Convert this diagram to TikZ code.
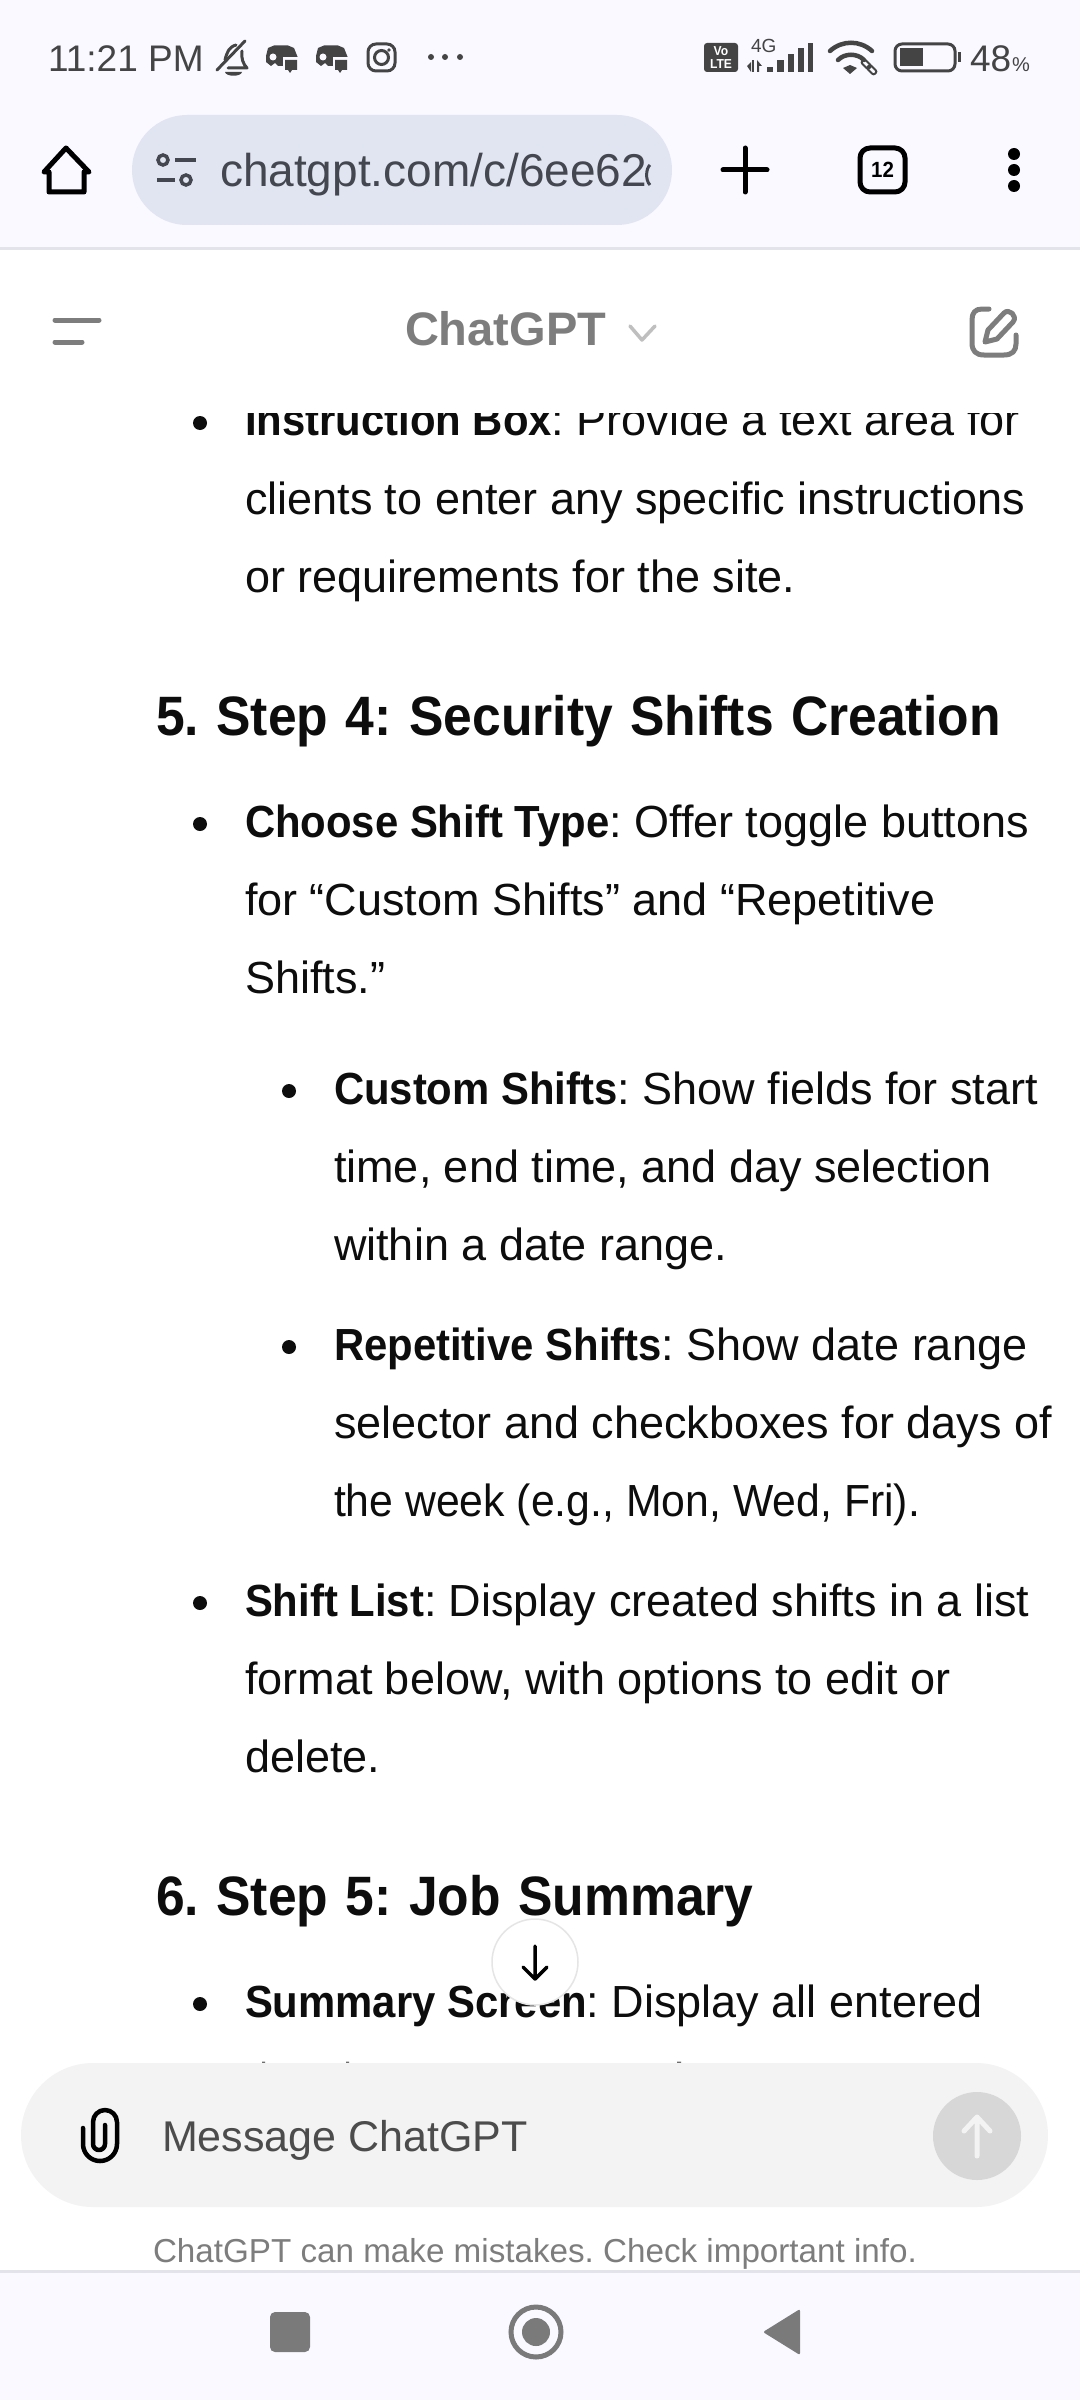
\documentclass[tikz,border=0pt]{standalone}
\usepackage{xcolor}
\usepackage{fontspec}
\setmainfont{Liberation Sans}[BoldFeatures={FakeStretch=0.93}]
\newfontfamily\titlefont{Liberation Sans}
\newcommand{\headspace}{\spaceskip=0.315em\relax}
\usepackage{tikz}
\usetikzlibrary{arrows.meta, positioning}
\definecolor{barbg}{HTML}{F9F9FF}
\definecolor{barline}{HTML}{E3E3EC}
\definecolor{statusink}{HTML}{444444}
\definecolor{pillbg}{HTML}{E1E5F1}
\definecolor{urlink}{HTML}{44474F}
\definecolor{headink}{HTML}{7D7D7D}
\definecolor{bodyink}{HTML}{0D0D0D}
\definecolor{composerbg}{HTML}{F3F3F3}
\definecolor{sendbg}{HTML}{D7D7D7}
\definecolor{navink}{HTML}{7A7A7A}

\begin{document}
\frenchspacing
\begin{tikzpicture}[
    x=1pt, y=-1pt,
    every node/.style={inner sep=0pt, outer sep=0pt},
    txt/.style={anchor=base west, text=bodyink, font=\fontsize{45}{45}\selectfont},
    heading/.style={anchor=base west, text=bodyink, font=\fontsize{55.5}{56}\selectfont\bfseries\headspace},
    status/.style={anchor=base west, text=statusink, font=\fontsize{37}{37}\selectfont},
    icon/.style={draw=statusink, line width=3pt, line cap=round, line join=round},
    baricon/.style={draw=black, line width=5pt, line cap=round, line join=round},
    graybar/.style={draw=headink, line width=5pt, line cap=round, line join=round}
]
    \useasboundingbox (0,0) rectangle (1080,2400);
    \fill[white] (0,0) rectangle (1080,2400);

    % Page text
    \node[txt] (l0) at (245,435) {\textbf{Instruction Box}: Provide a text area for};
    \node[txt] (l1) at (245,514) {clients to enter any specific instructions};
    \node[txt] (l2) at (245,592) {or requirements for the site.};
    \node[heading] (h5) at (156,735) {5. Step 4: Security Shifts Creation};
    \node[txt] (l3) at (245,837) {\textbf{Choose Shift Type}: Offer toggle buttons};
    \node[txt] (l4) at (245,915) {for “Custom Shifts” and “Repetitive};
    \node[txt] (l5) at (245,993) {Shifts.”};
    \node[txt] (l6) at (334,1104) {\textbf{Custom Shifts}: Show fields for start};
    \node[txt] (l7) at (334,1182) {time, end time, and day selection};
    \node[txt] (l8) at (334,1260) {within a date range.};
    \node[txt] (l9) at (334,1360) {\textbf{Repetitive Shifts}: Show date range};
    \node[txt] (l10) at (334,1438) {selector and checkboxes for days of};
    \node[txt] (l11) at (334,1516) {\addfontfeature{FakeStretch=0.95}the week (e.g., Mon, Wed, Fri).};
    \node[txt] (l12) at (245,1616) {\textbf{Shift List}: Display created shifts in a list};
    \node[txt] (l13) at (245,1694) {format below, with options to edit or};
    \node[txt] (l14) at (245,1772) {delete.};
    \node[heading] (h6) at (156,1915) {6. Step 5: Job Summary};
    \node[txt] (l15) at (245,2017) {\textbf{Summary Screen}: Display all entered};

    % Bullets
    \fill[bodyink] (200,423) circle (7) (200,824) circle (7) (200,1603) circle (7) (200,2004) circle (7);
    \fill[bodyink] (289,1091) circle (7) (289,1347) circle (7);

    % Scroll button
    \node[circle, draw=black!10, fill=white, line width=1.5pt, minimum size=86pt] (down) at (535,1962) {};
    \draw[line width=3.5pt, line cap=round, line join=round, black]
        (535,1946) -- (535,1979) (523,1967) -- (535,1979) -- (547,1967);

    % Header
    \fill[barbg] (0,0) rectangle (1080,247);
    \fill[barline] (0,247) rectangle (1080,250);
    \fill[white] (0,250) rectangle (1080,413);
    \draw[graybar] (55,320) -- (99,320);
    \draw[graybar] (55,342) -- (82,342);
    \node[anchor=base west, text=headink, font=\titlefont\fontsize{47}{47}\selectfont\bfseries] (title) at (405,345) {ChatGPT};
    \draw[draw=black!25, line width=3.5pt, line cap=round, line join=round] (630,326) -- (642,340) -- (655,326);
    \draw[graybar] (989,309) -- (982,309) .. controls (975,309) and (972,313) .. (972,320) -- (972,343)
        .. controls (972,351) and (976,355) .. (984,355) -- (1004,355) .. controls (1012,355) and (1016,351) .. (1016,344) -- (1016,335);
    \draw[graybar] (985,342) -- (988,330) -- (1004,313) .. controls (1009,308) and (1018,316) .. (1013,322) -- (997,339) -- cycle;

    % Status bar
    \node[status] (clock) at (48,72) {11:21 PM};
    \draw[icon] (217,70) -- (245,41);
    \draw[icon] (225,60) .. controls (227,52) and (229,47) .. (236,45) (242,51) .. controls (241,58) and (243,64) .. (247,68) -- (228,68);
    \fill[statusink] (225,72) -- (242,72) .. controls (241,77) and (226,77) .. (225,72);
    % Message app icons
    \fill[statusink] (268,48) -- (274,45.5) -- (288,45.5) -- (294,48) -- (298,58) -- (283,60) -- (283,66) -- (278,66) -- (275,63) -- (271,66) -- (266,62) -- (266,56) -- cycle;
    \fill[barbg] (273,57) circle (3.5);
    \fill[barbg] (283,57) rectangle (300,74);
    \fill[statusink] (285,60) -- (297,60) -- (297,70) -- (292,70) -- (290,73) -- (288,70) -- (285,70) -- cycle;
    \fill[statusink] (318,48) -- (324,45.5) -- (338,45.5) -- (344,48) -- (348,58) -- (333,60) -- (333,66) -- (328,66) -- (325,63) -- (321,66) -- (316,62) -- (316,56) -- cycle;
    \fill[barbg] (323,57) circle (3.5);
    \fill[barbg] (333,57) rectangle (350,74);
    \fill[statusink] (335,60) -- (347,60) -- (347,70) -- (342,70) -- (340,73) -- (338,70) -- (335,70) -- cycle;
    % Photo app icon
    \draw[statusink, line width=3pt, rounded corners=8pt] (368,44) rectangle (395,71);
    \draw[statusink, line width=3pt] (381.5,57.5) circle (7);
    \fill[statusink] (389,50) circle (1.8);
    \fill[statusink] (431,57) circle (3) (445,57) circle (3) (460,57) circle (3);

    % Right status icons
    \fill[statusink, rounded corners=3pt] (704,43) rectangle (738,72);
    \node[text=white, font=\fontsize{13}{13}\selectfont\bfseries] (vo) at (721,51) {Vo};
    \node[text=white, font=\fontsize{13}{13}\selectfont\bfseries] (lte) at (721,64) {LTE};
    \node[anchor=base west, text=statusink, font=\fontsize{19}{19}\selectfont] (net) at (751,53) {4G};
    \fill[statusink] (747,66) -- (751,62) -- (751,72) -- cycle;
    \fill[statusink] (752,60) rectangle (754,72);
    \fill[statusink] (757,60) -- (762,66) -- (759,66) -- (759,72) -- (757,72) -- cycle;
    \fill[statusink] (767,67) rectangle (773,72);
    \fill[statusink] (777,60) rectangle (784,72);
    \fill[statusink] (788,54) rectangle (794,72);
    \fill[statusink] (798,48) rectangle (804,72);
    \fill[statusink] (808,43) rectangle (813,72);
    \draw[statusink, line width=4.5pt, line cap=round] (830,51) .. controls (842,40) and (860,40) .. (872,51);
    \draw[statusink, line width=4.5pt, line cap=round] (838,60) .. controls (845,53) and (857,53) .. (864,60);
    \fill[statusink] (843,68) -- (850,65) -- (857,68) -- (850,74) -- cycle;
    \draw[statusink, line width=2pt, rounded corners=2pt, rotate around={-45:(869,67)}] (860,64.5) rectangle (870,69.5) (868,64.5) rectangle (878,69.5);
    \draw[statusink, line width=3pt, rounded corners=7pt] (895,44) rectangle (955,71);
    \fill[statusink] (900,48) rectangle (923,66);
    \fill[statusink] (958,52) rectangle (961,62);
    \node[status] (level) at (970,72) {48};
    \node[anchor=base west, text=statusink, font=\fontsize{20}{20}\selectfont] (pct) at (1012,72) {\%};

    % Toolbar
    \draw[baricon] (66,148) -- (44,172) -- (49,172) -- (49,192) -- (84,192) -- (84,172) -- (89,172) -- cycle;
    \fill[pillbg, rounded corners=55pt] (132,115) rectangle (672,225);
    \draw[urlink, line width=3.5pt] (163,160) circle (5) (186,180) circle (5);
    \draw[urlink, line width=4pt] (175,160) -- (196,160) (157,180) -- (175,180);
    \begin{scope}
        \clip (215,120) rectangle (650,220);
        \node[anchor=base west, text=urlink, font=\fontsize{46}{46}\selectfont] (url) at (220,187) {chatgpt.com/c/6ee62};
    \end{scope}
    \draw[urlink, line width=3pt] (650,165) .. controls (646,168) and (645,180) .. (650,185);
    \draw[black, line width=5pt, line cap=round] (745,148) -- (745,192) (723,170) -- (767,170);
    \draw[black, line width=5pt, rounded corners=10pt] (860,148) rectangle (905,192);
    \node[text=black, font=\fontsize{22}{22}\selectfont\bfseries] (tabs) at (882.5,170) {12};
    \fill[black] (1014,154) circle (6) (1014,170) circle (6) (1014,186) circle (6);

    % Composer
    \fill[white] (0,2063) rectangle (1080,2270);
    \fill[bodyink!60] (262,2061.5) rectangle (265,2063) (346,2061.5) rectangle (349,2063) (677,2061.5) rectangle (681,2063);
    \fill[composerbg, rounded corners=72pt] (21,2063) rectangle (1048,2207);
    \draw[black, line width=4.5pt, line cap=round, line join=round]
        (83,2128) -- (83,2144) arc (180:0:17) -- (117,2122) arc (0:-180:12) -- (93,2144) arc (180:0:6) -- (105,2125);
    \node[anchor=base west, text=black!70, font=\fontsize{43}{43}\selectfont] (prompt) at (162,2151) {Message ChatGPT};
    \node[circle, fill=sendbg, minimum size=88pt] (send) at (977,2136) {};
    \draw[composerbg, line width=5pt, line cap=round, line join=round]
        (977,2156) -- (977,2117) (964,2131) -- (977,2117) -- (990,2131);
    \node[anchor=base west, text=headink, font=\fontsize{33.2}{33.5}\selectfont] (note) at (153,2262) {ChatGPT can make mistakes. Check important info.};

    % Navigation bar
    \fill[barline] (0,2270) rectangle (1080,2273);
    \fill[barbg] (0,2273) rectangle (1080,2400);
    \fill[navink, rounded corners=5pt] (270,2312) rectangle (310,2352);
    \draw[navink, line width=5pt] (536,2332) circle (25);
    \fill[navink] (536,2332) circle (14);
    \fill[navink, rounded corners=2pt] (763,2332) -- (800,2309) -- (800,2355) -- cycle;
\end{tikzpicture}
\end{document}
